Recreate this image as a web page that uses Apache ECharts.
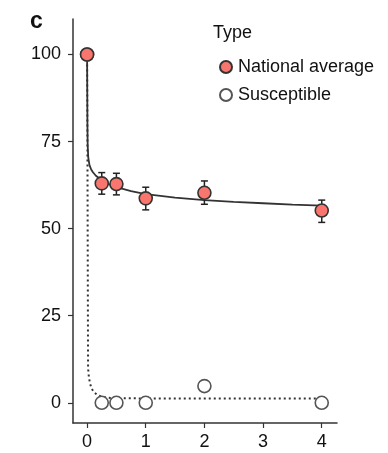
<!DOCTYPE html>
<html>
<head>
<meta charset="utf-8">
<script src="https://cdn.jsdelivr.net/npm/echarts@6/dist/echarts.min.js"></script>
<style>
html,body{margin:0;padding:0;background:#fff;}
#chart{width:388px;height:453px;}
</style>
</head>
<body>
<div id="chart"></div>
<script>
// ---- data ----
var xTicks = [0, 1, 2, 3, 4];
var yTicks = [0, 25, 50, 75, 100];

var natX = [0, 0.25, 0.5, 1, 2, 4];
var natY = [100, 63.0, 62.8, 58.7, 60.3, 55.2];

var errX = [0.25, 0.5, 1, 2, 4];
var errLow = [59.9, 59.7, 55.4, 57.0, 51.8];
var errHigh = [66.1, 65.9, 61.9, 63.7, 58.2];

var susX = [0, 0.25, 0.5, 1, 2, 4];
var susY = [100, 0, 0, 0, 4.8, 0];

var natFitX = [0, 0.003, 0.006, 0.01, 0.02, 0.04, 0.07, 0.1, 0.15, 0.25, 0.35, 0.5, 0.75, 1, 1.5, 2, 2.5, 3, 3.5, 4];
var natFitY = [100, 90, 80, 74, 70.5, 68.3, 67, 66.2, 65.2, 63.9, 62.9, 61.9, 60.8, 59.9, 58.9, 58.2, 57.7, 57.3, 56.9, 56.6];

var susFitX = [0, 0.005, 0.01, 0.015, 0.017, 0.03, 0.05, 0.08, 0.12, 0.18, 0.25, 0.4, 0.6, 1, 2, 4];
var susFitY = [100, 80, 50, 20, 10, 7.5, 5.5, 4, 3, 2.2, 1.7, 1.4, 1.3, 1.25, 1.2, 1.2];

function zip(a, b) { return a.map(function (v, i) { return [v, b[i]]; }); }

var FONT = '"Liberation Sans", Arial, Helvetica, sans-serif';
var chart = echarts.init(document.getElementById('chart'), null, {renderer: 'canvas'});

chart.setOption({
  animation: false,
  backgroundColor: '#ffffff',
  title: [
    {text: 'c', left: 30, top: 10, padding: 0, textStyle: {fontFamily: FONT, fontSize: 23, fontWeight: 'bold', color: '#111'}},
    {text: 'Type', left: 213, top: 24, padding: 0, textStyle: {fontFamily: FONT, fontSize: 18, fontWeight: 'normal', color: '#111'}}
  ],
  legend: {
    orient: 'vertical',
    left: 214,
    top: 53,
    itemWidth: 12,
    itemHeight: 12,
    itemGap: 10,
    icon: 'circle',
    data: ['National average', 'Susceptible'],
    textStyle: {fontFamily: FONT, fontSize: 18, color: '#111', padding: [0, 0, 0, 1]}
  },
  grid: {left: 73, right: 51, top: 19, bottom: 30, containLabel: false},
  xAxis: {
    type: 'value',
    min: -0.24,
    max: 4.26,
    splitLine: {show: false},
    axisLine: {show: true, onZero: false, lineStyle: {color: '#333', width: 1.5}},
    axisTick: {show: true, length: 5, customValues: xTicks, lineStyle: {color: '#333', width: 1.2}},
    axisLabel: {customValues: xTicks, fontFamily: FONT, fontSize: 18, color: '#111', margin: 10}
  },
  yAxis: {
    type: 'value',
    min: -5.8,
    max: 110.2,
    splitLine: {show: false},
    axisLine: {show: true, onZero: false, lineStyle: {color: '#333', width: 1.5}},
    axisTick: {show: true, length: 5, customValues: yTicks, lineStyle: {color: '#333', width: 1.2}},
    axisLabel: {customValues: yTicks, fontFamily: FONT, fontSize: 18, color: '#111', margin: 12}
  },
  series: [
    {
      name: 'susFit', type: 'line', data: zip(susFitX, susFitY), showSymbol: false, silent: true,
      lineStyle: {color: '#333', width: 2, type: [2, 3]}, z: 2
    },
    {
      name: 'natFit', type: 'line', data: zip(natFitX, natFitY), showSymbol: false, silent: true,
      lineStyle: {color: '#333', width: 1.8}, z: 3
    },
    {
      name: 'err', type: 'custom', z: 4,
      data: errX.map(function (x, i) { return [x, errLow[i], errHigh[i]]; }),
      renderItem: function (params, api) {
        var lo = api.coord([api.value(0), api.value(1)]);
        var hi = api.coord([api.value(0), api.value(2)]);
        var w = 3.5;
        var st = {stroke: '#222', lineWidth: 1.5};
        return {type: 'group', children: [
          {type: 'line', shape: {x1: lo[0], y1: lo[1], x2: hi[0], y2: hi[1]}, style: st},
          {type: 'line', shape: {x1: lo[0] - w, y1: lo[1], x2: lo[0] + w, y2: lo[1]}, style: st},
          {type: 'line', shape: {x1: hi[0] - w, y1: hi[1], x2: hi[0] + w, y2: hi[1]}, style: st}
        ]};
      }
    },
    {
      name: 'Susceptible', type: 'scatter', data: zip(susX, susY), symbol: 'circle', symbolSize: 13, z: 5,
      itemStyle: {color: '#ffffff', borderColor: '#555', borderWidth: 1.6, opacity: 1}
    },
    {
      name: 'National average', type: 'scatter', data: zip(natX, natY), symbol: 'circle', symbolSize: 13, z: 6,
      itemStyle: {color: '#F8766D', borderColor: '#333', borderWidth: 1.6, opacity: 1}
    }
  ]
});
</script>
</body>
</html>
